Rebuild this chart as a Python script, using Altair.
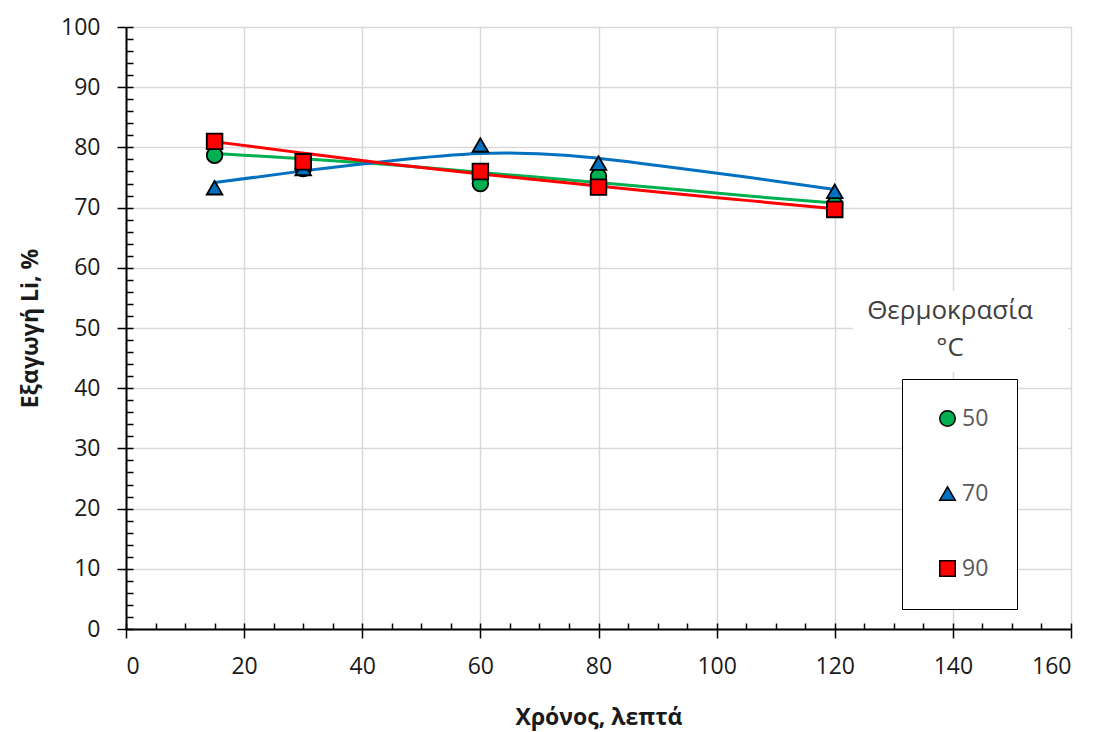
import altair as alt
import pandas as pd

# ---- data ----
time_min = [15, 30, 60, 80, 120]
temps = ["50", "70", "90"]
li_50 = [78.7, 76.5, 74.0, 75.2, 70.5]
li_70 = [73.3, 76.5, 80.4, 77.4, 72.7]
li_90 = [81.0, 77.6, 76.0, 73.4, 69.7]

# trend lines
trend_x = [15, 30, 45, 60, 75, 90, 105, 120]
trend_50 = [79.0, 78.1, 77.1, 75.85, 74.6, 73.3, 71.95, 70.75]
trend_70 = [74.15, 76.1, 77.8, 79.0, 78.65, 77.0, 75.1, 73.0]
trend_90 = [80.95, 79.05, 77.2, 75.6, 74.1, 72.6, 71.2, 69.8]

colors = ["#00B050", "#0070C0", "#FF0000"]
shapes = ["circle", "triangle-up", "square"]
x_ticks = [0, 20, 40, 60, 80, 100, 120, 140, 160]
y_ticks = [0, 10, 20, 30, 40, 50, 60, 70, 80, 90, 100]
x_minor = list(range(0, 161, 5))
y_minor = list(range(0, 101, 2))

rows = []
for t, vals in zip(temps, [li_50, li_70, li_90]):
    for x, y in zip(time_min, vals):
        rows.append({"time": x, "li": y, "temp": t})
df = pd.DataFrame(rows)

trows = []
for t, vals in zip(temps, [trend_50, trend_70, trend_90]):
    for x, y in zip(trend_x, vals):
        trows.append({"time": x, "li": y, "temp": t})
tdf = pd.DataFrame(trows)

FONT = "Open Sans"
W, H = 945, 602
xs = alt.Scale(domain=[0, 160], nice=False)
ys = alt.Scale(domain=[0, 100], nice=False)
cscale = alt.Scale(domain=temps, range=colors)
sscale = alt.Scale(domain=temps, range=shapes)

x_main = alt.Axis(values=x_ticks, grid=True, gridColor="#d9d9d9", gridWidth=1.5,
                  domainColor="black", domainWidth=2, tickColor="black", tickWidth=1.5,
                  tickSize=9, labelPadding=17, labelFont=FONT, labelFontSize=23,
                  labelColor="#1a1a1a", title="Χρόνος, λεπτά", titleFont=FONT,
                  titleFontSize=23, titleFontWeight="bold", titleColor="#1a1a1a",
                  titleY=88, titleBaseline="middle", orient="bottom")
y_main = alt.Axis(values=y_ticks, grid=True, gridColor="#d9d9d9", gridWidth=1.5,
                  domainColor="black", domainWidth=2, tickColor="black", tickWidth=1.5,
                  tickSize=9, labelPadding=17, labelFont=FONT, labelFontSize=23,
                  labelColor="#1a1a1a", title="Εξαγωγή Li, %", titleFont=FONT,
                  titleFontSize=23, titleFontWeight="bold", titleColor="#1a1a1a",
                  titleX=-96, titleBaseline="middle", orient="left")

x_in = alt.Axis(values=x_minor, orient="top", offset=-H, tickSize=6, tickColor="black",
                tickWidth=1.5, labels=False, domain=False, grid=False, title=None)
y_in = alt.Axis(values=y_minor, orient="right", offset=-W, tickSize=7, tickColor="black",
                tickWidth=1.5, labels=False, domain=False, grid=False, title=None)

base = alt.Chart(df)

axes_main = base.mark_point(opacity=0).encode(
    x=alt.X("time:Q", scale=xs, axis=x_main),
    y=alt.Y("li:Q", scale=ys, axis=y_main),
)
axes_minor = base.mark_point(opacity=0).encode(
    x=alt.X("time:Q", scale=xs, axis=x_in),
    y=alt.Y("li:Q", scale=ys, axis=y_in),
)


def trend(temp):
    return alt.Chart(tdf).transform_filter(alt.datum.temp == temp).mark_line(
        strokeWidth=3, interpolate="natural", color=colors[temps.index(temp)]
    ).encode(
        x=alt.X("time:Q", scale=xs, axis=None),
        y=alt.Y("li:Q", scale=ys, axis=None),
    )


lines = [trend(t) for t in temps]

legend = alt.Legend(orient="none", legendX=776, legendY=352, title=None,
                    strokeColor="black", fillColor="white", padding=28,
                    rowPadding=51, symbolOffset=6, symbolSize=240,
                    symbolStrokeColor="black", symbolStrokeWidth=1.5,
                    labelFont=FONT, labelFontSize=23, labelColor="#595959",
                    labelOffset=3, labelExpr="datum.label + '  '")

points = base.mark_point(filled=True, size=245, stroke="black", strokeWidth=1.8,
                         opacity=1).encode(
    x=alt.X("time:Q", scale=xs, axis=None),
    y=alt.Y("li:Q", scale=ys, axis=None),
    color=alt.Color("temp:N", scale=cscale, legend=legend),
    shape=alt.Shape("temp:N", scale=sscale, legend=legend),
    order=alt.Order("temp:N"),
)

one = alt.Data(values=[{"a": 1}])
title_bg = alt.Chart(one).mark_rect(color="white").encode(
    x=alt.value(727), x2=alt.value(942), y=alt.value(264), y2=alt.value(345)
)
title1 = alt.Chart(one).mark_text(font=FONT, fontSize=26, color="#404040",
                                  baseline="middle", align="center").encode(
    x=alt.value(824), y=alt.value(284), text=alt.value("Θερμοκρασία")
)
title2 = alt.Chart(one).mark_text(font=FONT, fontSize=26, color="#404040",
                                  baseline="middle", align="center").encode(
    x=alt.value(824), y=alt.value(321), text=alt.value("°C")
)

chart = alt.layer(
    axes_main, axes_minor, *lines, points, title_bg, title1, title2
).resolve_axis(x="independent", y="independent").properties(
    width=W, height=H,
    autosize=alt.AutoSizeParams(type="none"),
    padding={"left": 126, "top": 27, "right": 25, "bottom": 103},
).configure_view(stroke="black", strokeWidth=1.5).configure(background="white")

chart.save("out.html", embed_options={"renderer": "svg", "actions": False})
